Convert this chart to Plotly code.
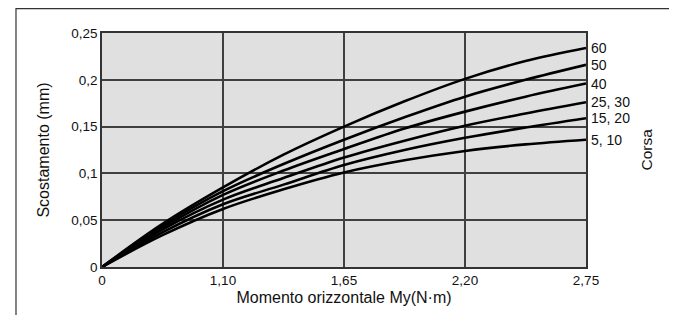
import plotly.graph_objects as go

# x positions along the (evenly spaced) drawn axis: 0 -> "0", 1 -> "1,10", 2 -> "1,65", 3 -> "2,20", 4 -> "2,75"
x_pos = [0, 0.5, 1, 1.5, 2, 2.5, 3, 3.5, 4]
x_tickvals = [0, 1, 2, 3, 4]
x_ticktext = ["0", "1,10", "1,65", "2,20", "2,75"]
y_tickvals = [0, 0.05, 0.1, 0.15, 0.2, 0.25]
y_ticktext = ["0", "0,05", "0,1", "0,15", "0,2", "0,25"]

corsa_labels = ["60", "50", "40", "25, 30", "15, 20", "5, 10"]
s60 = [0, 0.046, 0.085, 0.120, 0.150, 0.177, 0.201, 0.220, 0.234]
s50 = [0, 0.044, 0.081, 0.110, 0.136, 0.160, 0.182, 0.200, 0.216]
s40 = [0, 0.042, 0.077, 0.103, 0.126, 0.148, 0.166, 0.182, 0.196]
s25_30 = [0, 0.040, 0.072, 0.095, 0.117, 0.135, 0.151, 0.164, 0.176]
s15_20 = [0, 0.037, 0.067, 0.088, 0.109, 0.125, 0.138, 0.149, 0.159]
s5_10 = [0, 0.034, 0.062, 0.083, 0.101, 0.114, 0.124, 0.131, 0.136]
series = [s60, s50, s40, s25_30, s15_20, s5_10]

FONT = "Liberation Sans, Arial, sans-serif"

fig = go.Figure()
for name, ys in zip(corsa_labels, series):
    fig.add_trace(go.Scatter(x=x_pos, y=ys, mode="lines", name=name,
                             line=dict(color="#000000", width=2.6, shape="spline", smoothing=1.0),
                             showlegend=False, hoverinfo="skip"))
    fig.add_annotation(x=x_pos[-1], y=ys[-1], xref="x", yref="y", text=name,
                       showarrow=False, xanchor="left", yanchor="middle", xshift=3,
                       font=dict(family=FONT, size=14, color="#111"))

fig.add_annotation(x=1.123, y=0.5, xref="paper", yref="paper", text="Corsa",
                   showarrow=False, textangle=-90, xanchor="center", yanchor="middle",
                   font=dict(family=FONT, size=15.5, color="#111"))

# outer frame
fig.add_shape(type="rect", xref="paper", yref="paper", x0=-0.1777, x1=1.1838, y0=-0.3, y1=1.1045,
              line=dict(color="#333333", width=1.2), fillcolor="rgba(0,0,0,0)", layer="below")

axis_common = dict(showline=True, linecolor="#333333", linewidth=1.5, mirror=True,
                   showgrid=True, gridcolor="#404040", gridwidth=1.5, zeroline=False,
                   tickfont=dict(family=FONT, size=13.5, color="#111"), ticks="")

fig.update_xaxes(range=[0, 4], tickmode="array", tickvals=x_tickvals, ticktext=x_ticktext,
                 title=dict(text="Momento orizzontale My(N·m)", font=dict(family=FONT, size=16, color="#111"),
                            standoff=5),
                 **axis_common)
fig.update_yaxes(range=[0, 0.25], tickmode="array", tickvals=y_tickvals, ticktext=y_ticktext,
                 title=dict(text="Scostamento (mm)", font=dict(family=FONT, size=16, color="#111"),
                            standoff=18),
                 **axis_common)

# page body has an 8px margin, so the figure is shrunk by 8px and margins reduced accordingly
fig.update_layout(width=669, height=307, autosize=False,
                  margin=dict(l=94, r=91, t=25, b=48),
                  paper_bgcolor="#ffffff", plot_bgcolor="#e0e0e0",
                  font=dict(family=FONT, color="#111"))

fig.write_html("out.html")
